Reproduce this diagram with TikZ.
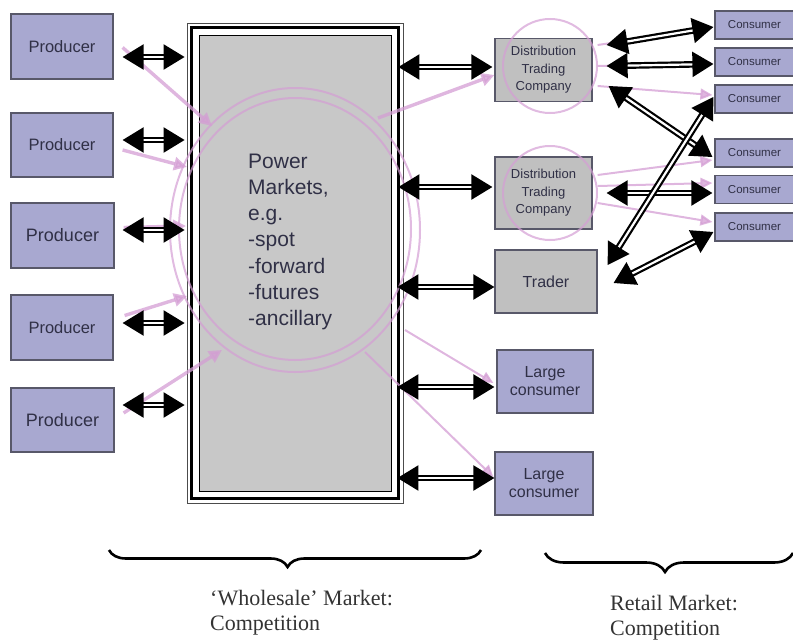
\documentclass[tikz,border=0pt]{standalone}
\usepackage{fontspec}
\setmainfont{Liberation Sans}
\newfontfamily\serifrm{Liberation Serif}
\usetikzlibrary{arrows.meta,decorations.pathreplacing,calc}
\definecolor{prodfill}{RGB}{168,168,208}
\definecolor{boxline}{RGB}{88,88,105}
\definecolor{grayfill}{RGB}{192,192,192}
\definecolor{mktfill}{RGB}{200,200,200}
\definecolor{txt}{RGB}{48,48,70}
\definecolor{pinkc}{RGB}{212,158,212}
\begin{document}
\begin{tikzpicture}[x=1pt,y=-1pt,
  prod/.style={draw=boxline, line width=1.2pt, fill=prodfill, text=txt, inner sep=0pt, font=\fontsize{16.5}{19}\selectfont},
  graybox/.style={draw=boxline, line width=1.2pt, fill=grayfill, text=txt, inner sep=0pt, align=center},
  cons/.style={prod, font=\fontsize{11.5}{13}\selectfont, minimum width=79pt, minimum height=28pt},
  dbl/.style={draw=black, line width=2.2pt, double=white, double distance=2.2pt,
    arrows={Triangle[length=21pt,width=25pt]-Triangle[length=21pt,width=25pt]}},
  pinkarr/.style={draw=pinkc, line width=3.4pt, opacity=0.75, -{Triangle[length=13pt,width=13pt]}},
  pinkthin/.style={draw=pinkc, line width=2pt, opacity=0.75, -{Triangle[length=12pt,width=11pt]}},
  ring/.style={draw=pinkc, line width=2pt, opacity=0.7},
  bracestyle/.style={draw=black, line width=2.6pt, decorate},
  bottomtext/.style={anchor=base west, inner sep=0pt, text=black!80, font=\serifrm\fontsize{22}{25}\selectfont}
]
\useasboundingbox (0,0) rectangle (793,640);
\clip (0,0) rectangle (793,640);

% producers
\node[prod, minimum width=102pt, minimum height=65pt] (p1) at (62,46.5) {Producer};
\node[prod, minimum width=102pt, minimum height=64pt] (p2) at (62,145) {Producer};
\node[prod, minimum width=103pt, minimum height=65pt, font=\fontsize{18}{21}\selectfont] (p3) at (62.5,235.5) {Producer};
\node[prod, minimum width=102pt, minimum height=65pt] (p4) at (62,327.5) {Producer};
\node[prod, minimum width=103pt, minimum height=64pt, font=\fontsize{18}{21}\selectfont] (p5) at (62.5,420) {Producer};

% central market box
\node[draw=black!70, line width=0.8pt, minimum width=216pt, minimum height=480pt, inner sep=0pt] (market) at (295,263) {};
\draw[line width=3.6pt] (191.5,27.5) rectangle (398.5,498.5);
\draw[line width=0.9pt, fill=mktfill] (199,35) rectangle (391,491);
\node[anchor=base west, inner sep=0pt, text=txt, font=\fontsize{21}{26.3}\selectfont] (mtext) at (248,168)
  {\begin{tabular}[t]{@{}l@{}}Power\\Markets,\\e.g.\\-spot\\-forward\\-futures\\-ancillary\end{tabular}};

% right-hand boxes
\node[graybox, minimum width=97pt, minimum height=63pt, font=\fontsize{13}{17.5}\selectfont] (d1) at (543.5,70) {Distribution\\Trading\\Company};
\node[graybox, minimum width=97pt, minimum height=72pt, font=\fontsize{13}{17.5}\selectfont] (d2) at (543.5,193) {Distribution\\Trading\\Company};
\node[graybox, minimum width=102pt, minimum height=63pt, font=\fontsize{16}{19}\selectfont] (tr) at (546,281.5) {Trader};
\node[prod, align=center, minimum width=96pt, minimum height=63pt, font=\fontsize{16}{18}\selectfont] (lc1) at (545,381.5) {Large\\consumer};
\node[prod, align=center, minimum width=98pt, minimum height=63pt, font=\fontsize{16}{18}\selectfont] (lc2) at (544,483.5) {Large\\consumer};

% consumers
\node[cons] (c1) at (754.5,25) {Consumer};
\node[cons] (c2) at (754.5,62) {Consumer};
\node[cons] (c3) at (754.5,99) {Consumer};
\node[cons] (c4) at (754.5,153) {Consumer};
\node[cons] (c5) at (754.5,189.5) {Consumer};
\node[cons] (c6) at (754.5,227) {Consumer};

% pink rings
\draw[ring] (295,230) ellipse [x radius=125pt, y radius=142pt];
\draw[ring] (295,229) ellipse [x radius=116pt, y radius=131pt];
\draw[ring] (550,66) circle [radius=47pt];
\draw[ring] (550,193) circle [radius=47pt];

% pink flows
\coordinate (pk1) at (212,126);
\coordinate (pk2) at (187,167);
\coordinate (pk3) at (186,226);
\coordinate (pk4) at (187,296);
\coordinate (pk5) at (222,350);
\coordinate (pr1) at (378,118);
\coordinate (pr2) at (405,330);
\coordinate (pr3) at (365,352);
\draw[pinkarr] ([shift={(9,1)}]p1.east) -- (pk1);
\draw[pinkarr] ([shift={(9,5)}]p2.east) -- (pk2);
\draw[pinkarr] ([shift={(9,-8)}]p3.east) -- (pk3);
\draw[pinkarr] ([shift={(11,-12)}]p4.east) -- (pk4);
\draw[pinkarr] ([shift={(9,-7)}]p5.east) -- (pk5);
\draw[pinkarr] (pr1) -- ([shift={(0,5)}]d1.west);
\draw[pinkthin] (pr2) -- ([shift={(-3,1.5)}]lc1.west);
\draw[pinkthin] (pr3) -- ([shift={(-1,-6.5)}]lc2.west);
\draw[pinkthin] ([shift={(5,-25)}]d1.east) -- ([shift={(-2,3)}]c1.west);
\draw[pinkthin] ([shift={(5,-4)}]d1.east) -- ([shift={(-2,1)}]c2.west);
\draw[pinkthin] ([shift={(5,16)}]d1.east) -- ([shift={(-2,-4)}]c3.west);
\draw[pinkthin] ([shift={(5,-18)}]d2.east) -- ([shift={(-2,7)}]c4.west);
\draw[pinkthin] ([shift={(5,-7)}]d2.east) -- ([shift={(-2,-6.5)}]c5.west);
\draw[pinkthin] ([shift={(5,10)}]d2.east) -- ([shift={(-2,-5)}]c6.west);

% double arrows: producers <-> market
\draw[dbl, shorten <=9pt, shorten >=2pt] (p1.east |- 0,57) -- (market.west |- 0,57);
\draw[dbl, shorten <=9pt, shorten >=2pt] (p2.east |- 0,140) -- (market.west |- 0,140);
\draw[dbl, shorten <=8pt, shorten >=2pt] (p3.east |- 0,230) -- (market.west |- 0,230);
\draw[dbl, shorten <=9pt, shorten >=2pt] (p4.east |- 0,323) -- (market.west |- 0,323);
\draw[dbl, shorten <=8pt, shorten >=2pt] (p5.east |- 0,405) -- (market.west |- 0,405);

% double arrows: market <-> right boxes
\draw[dbl, shorten <=-5pt, shorten >=2pt] (market.east |- 0,67) -- (d1.west |- 0,67);
\draw[dbl, shorten <=-5pt, shorten >=2pt] (market.east |- 0,187) -- (d2.west |- 0,187);
\draw[dbl, shorten <=-6pt, shorten >=0pt] (market.east |- 0,287) -- (tr.west |- 0,287);
\draw[dbl, shorten <=-6pt, shorten >=2pt] (market.east |- 0,387) -- (lc1.west |- 0,387);
\draw[dbl, shorten <=-6pt, shorten >=0pt] (market.east |- 0,478) -- (lc2.west |- 0,478);

% double arrows: retail
\draw[dbl] ([shift={(14,-25)}]d1.east) -- ([shift={(-1,2)}]c1.west);
\draw[dbl] ([shift={(14,-4)}]d1.east) -- ([shift={(-1,2)}]c2.west);
\draw[dbl] ([shift={(16,16)}]d1.east) -- ([shift={(-2,4)}]c4.west);
\draw[dbl] ([shift={(14,0)}]d2.east) -- ([shift={(-2,3.5)}]c5.west);
\draw[dbl] ([shift={(10,-16.5)}]tr.east) -- ([shift={(-1,-2)}]c3.west);
\draw[dbl] ([shift={(16,1.5)}]tr.east) -- ([shift={(-1,5)}]c6.west);

% braces and captions
\draw[bracestyle, decoration={brace, mirror, amplitude=17pt, aspect=0.48}] (109,550) -- (481,550);
\draw[bracestyle, decoration={brace, mirror, amplitude=19pt, aspect=0.484}] (545,553) -- (793,553);
\node[bottomtext] (wtext) at (210,605) {\begin{tabular}[t]{@{}l@{}}‘Wholesale’ Market:\\Competition\end{tabular}};
\node[bottomtext] (rtext) at (610,610) {\begin{tabular}[t]{@{}l@{}}Retail Market:\\Competition\end{tabular}};
\end{tikzpicture}
\end{document}
